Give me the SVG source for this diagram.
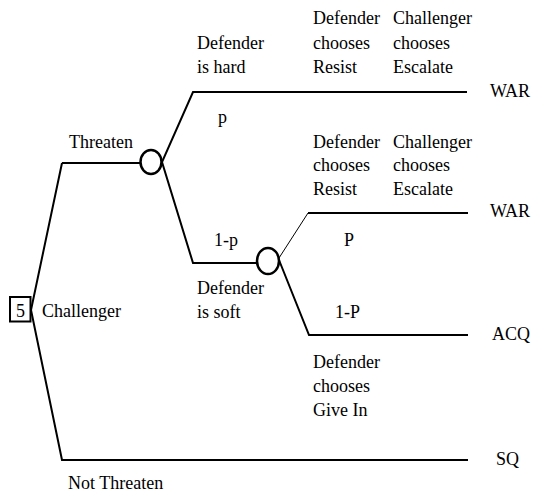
<svg xmlns="http://www.w3.org/2000/svg" width="533" height="493" viewBox="0 0 533 493">
<style>
text{font-size:18px;fill:#000}
.e{fill:none;stroke:#000;stroke-width:2}
.t{fill:none;stroke:#000;stroke-width:1}
.n{fill:#fff;stroke:#000;stroke-width:2.5}
</style>
<rect width="533" height="493" fill="#fff"/>
<g id="connectors">
<polyline class="e" points="62,163 31,310 62,460 468,460"/>
<polyline class="e" points="62,163 141,163"/>
<polyline class="e" points="467,92 193,92 162,162 193,263 257,263"/>
<polyline class="t" points="279,258 308,213"/>
<polyline class="e" points="308,213 468,213"/>
<polyline class="e" points="279,260 309,335 468,335"/>
</g>
<g id="challenger-node">
<rect x="10" y="297" width="20.5" height="24.5" fill="#fff" stroke="#000" stroke-width="2"/>
<text x="16" y="317" font-family="'Liberation Serif', 'Times New Roman', 'DejaVu Serif', serif">5</text>
</g>
<g id="chance-node-1"><ellipse class="n" cx="151" cy="162" rx="10.5" ry="12"/></g>
<g id="chance-node-2"><ellipse class="n" cx="268" cy="261" rx="11" ry="13"/></g>
<g id="labels" font-family="'Liberation Serif', 'Times New Roman', 'DejaVu Serif', serif">
<text x="42" y="317">Challenger</text>
<text x="69" y="148">Threaten</text>
<text x="68" y="489">Not Threaten</text>
<text x="197" y="49">Defender</text>
<text x="197" y="73">is hard</text>
<text x="218" y="123">p</text>
<text x="313" y="24">Defender</text>
<text x="313" y="49">chooses</text>
<text x="313" y="73">Resist</text>
<text x="393" y="24">Challenger</text>
<text x="393" y="49">chooses</text>
<text x="393" y="73">Escalate</text>
<text x="490" y="97">WAR</text>
<text x="313" y="148">Defender</text>
<text x="313" y="171">chooses</text>
<text x="313" y="195">Resist</text>
<text x="393" y="148">Challenger</text>
<text x="393" y="171">chooses</text>
<text x="393" y="195">Escalate</text>
<text x="490" y="217">WAR</text>
<text x="214" y="246">1-p</text>
<text x="344" y="246">P</text>
<text x="197" y="294">Defender</text>
<text x="197" y="318">is soft</text>
<text x="335" y="318">1-P</text>
<text x="492" y="340">ACQ</text>
<text x="313" y="368">Defender</text>
<text x="313" y="392">chooses</text>
<text x="313" y="416">Give In</text>
<text x="496" y="465">SQ</text>
</g>
</svg>
